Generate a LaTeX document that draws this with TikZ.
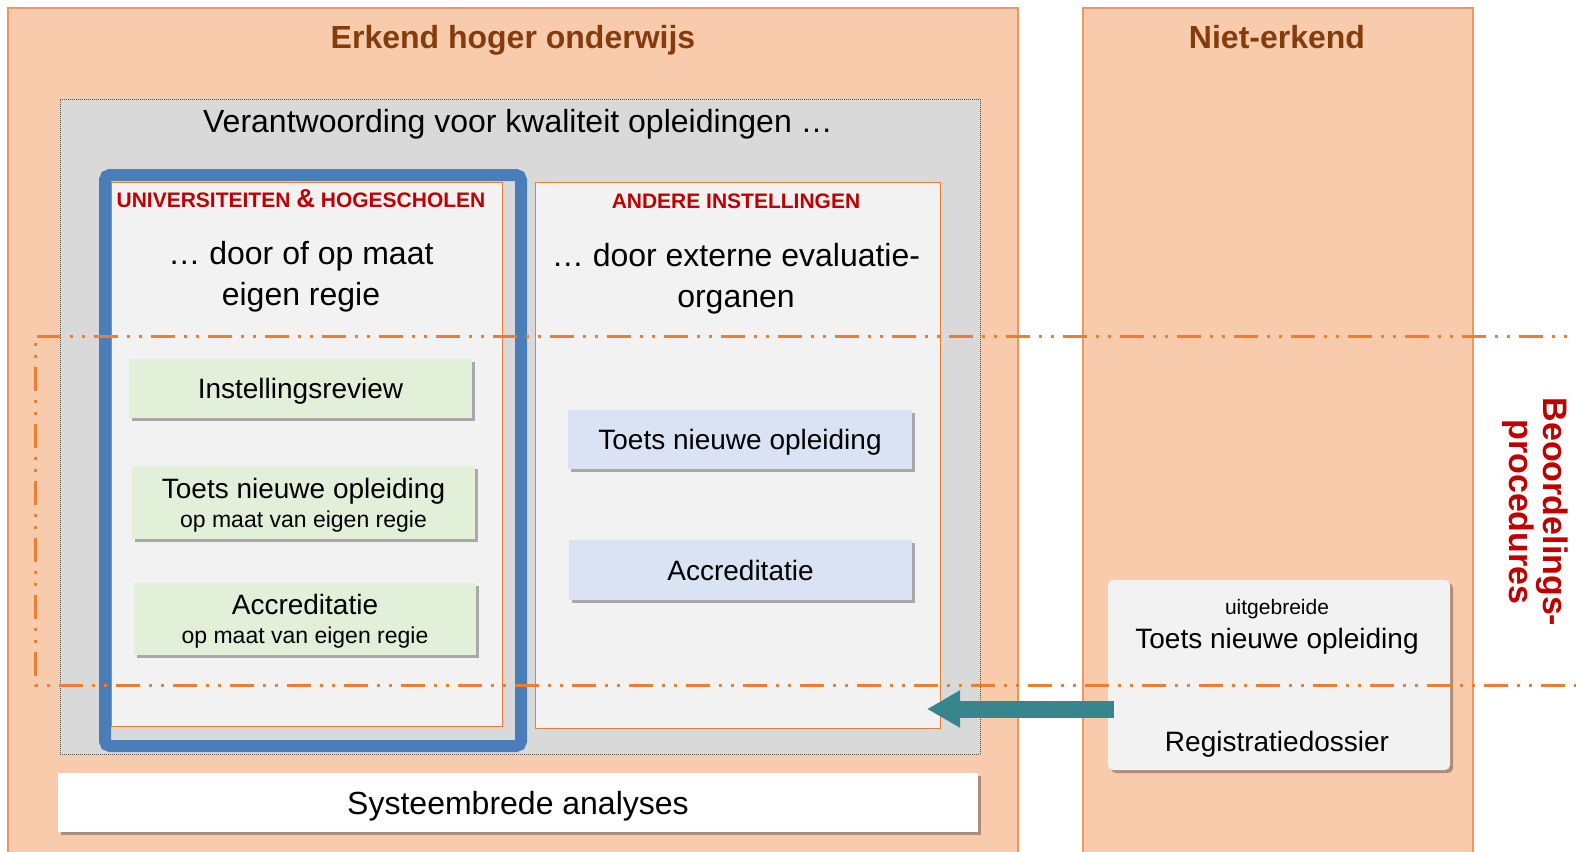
\documentclass[tikz,border=0pt]{standalone}
\usepackage{fontspec}
\setmainfont{Liberation Sans}
\usetikzlibrary{shadows,arrows.meta}
\definecolor{peach}{RGB}{248,203,173}
\definecolor{peachline}{RGB}{241,150,90}
\definecolor{orangeL}{RGB}{237,125,49}
\definecolor{grayfill}{RGB}{217,217,217}
\definecolor{grayline}{RGB}{80,80,80}
\definecolor{lightfill}{RGB}{242,242,242}
\definecolor{greenfill}{RGB}{226,240,217}
\definecolor{bluefill}{RGB}{218,227,243}
\definecolor{frameblue}{RGB}{74,126,187}
\definecolor{redtxt}{RGB}{192,0,0}
\definecolor{browntxt}{RGB}{132,60,12}
\definecolor{tealarrow}{RGB}{55,134,141}
\tikzset{
  region/.style={draw=peachline, line width=1.2, fill=peach, inner sep=0},
  boxshadow/.style={drop shadow={shadow xshift=3pt, shadow yshift=-3pt, opacity=0.3, fill=black}},
  inbox/.style={draw=orangeL, line width=1, fill=lightfill, inner sep=0},
  greenbox/.style={fill=greenfill, boxshadow, align=center, inner sep=0, text depth=0pt, font=\fontsize{28}{32}\selectfont},
  bluebox/.style={fill=bluefill, boxshadow, align=center, inner sep=0, text depth=0pt, font=\fontsize{28}{32}\selectfont},
  bigtxt/.style={inner sep=0, align=center, text depth=0pt, font=\fontsize{32}{41}\selectfont},
  captxt/.style={inner sep=0, text=redtxt, font=\bfseries\fontsize{21}{25}\selectfont},
  titletxt/.style={inner sep=0, text=browntxt, text depth=0pt, font=\bfseries\fontsize{32}{38}\selectfont},
  smalltxt/.style={inner sep=0, text depth=0pt, font=\fontsize{28}{32}\selectfont},
}
\begin{document}
\begin{tikzpicture}[x=1pt,y=-1pt]
\useasboundingbox (0,0) rectangle (1576,851);
\fill[white] (0,0) rectangle (1576,851);
% regions
\node[region, minimum width=1010, minimum height=862] (erkend) at (513,439) {};
\node[region, minimum width=390, minimum height=862] (niet) at (1278,439) {};
\node[titletxt] (terkend) at (513,37) {Erkend hoger onderwijs};
\node[titletxt] (tniet) at (1277,37) {Niet-erkend};
% gray box
\node[draw=grayline, line width=1, dash pattern=on 1pt off 1pt, fill=grayfill, minimum width=920, minimum height=655, inner sep=0] (gray) at (520,426.5) {};
\node[bigtxt] (verant) at (518,121) {Verantwoording voor kwaliteit opleidingen …};
% inner boxes
\node[inbox, minimum width=391, minimum height=544] (uh) at (306.5,454) {};
\node[inbox, minimum width=405, minimum height=546] (andere) at (737.5,455) {};
\node[captxt] (tuh) at (301,199) {UNIVERSITEITEN {\fontsize{26}{26}\selectfont\&} HOGESCHOLEN};
\node[bigtxt] (duh) at (301,273) {… door of op maat\\eigen regie};
\node[captxt] (tand) at (736,201) {ANDERE INSTELLINGEN};
\node[bigtxt] (dand) at (736,275) {… door externe evaluatie-\\organen};
% green boxes
\node[greenbox, minimum width=343, minimum height=59] (g1) at (300.5,388.5) {Instellingsreview};
\node[greenbox, minimum width=343, minimum height=73] (g2) at (303.5,502.5) {Toets nieuwe opleiding\\[-3pt]\fontsize{23}{27}\selectfont op maat van eigen regie};
\node[greenbox, minimum width=342, minimum height=72] (g3) at (305,619) {Accreditatie\\[-3pt]\fontsize{23}{27}\selectfont op maat van eigen regie};
% blue boxes
\node[bluebox, minimum width=344, minimum height=59] (b1) at (740,439.5) {Toets nieuwe opleiding};
\node[bluebox, minimum width=343, minimum height=60] (b2) at (740.5,570) {Accreditatie};
% blue frame
\node[draw=frameblue, line width=12, rounded corners=5, minimum width=416, minimum height=571, inner sep=0] (uhframe) at (313,460.5) {};
% systeembrede
\node[fill=white, boxshadow, minimum width=920, minimum height=59, inner sep=0, text depth=0pt, font=\fontsize{32}{38}\selectfont] (sys) at (518,802.5) {Systeembrede analyses};
% right box
\node[fill=lightfill, rounded corners=5, boxshadow, minimum width=342, minimum height=190, inner sep=0] (reg) at (1279,675) {};
\node[inner sep=0, text depth=0pt, font=\fontsize{21}{25}\selectfont] (uitg) at (1277,607) {uitgebreide};
\node[smalltxt] (toetsr) at (1277,638) {Toets nieuwe opleiding};
\node[smalltxt] (regd) at (1277,741) {Registratiedossier};
% arrow
\coordinate (atail) at (1114,709);
\coordinate (atip) at (927,709);
\draw[tealarrow, line width=17, -{Triangle[length=33pt, width=35pt]}] (atail) -- (atip);
% dash-dot frame
\coordinate (d1) at (1600,336);
\coordinate (d2) at (35,336);
\coordinate (d3) at (35,685);
\coordinate (d4) at (1600,685);
\draw[orangeL, line width=3, dash pattern=on 24pt off 9pt on 3pt off 9pt on 3pt off 9pt] (d1) -- (d2) -- (d3) -- (d4);
% rotated label
\node[rotate=-90, inner sep=0, align=center, text=redtxt, font=\bfseries\fontsize{34}{34}\selectfont] (beoord) at (1535,512) {Beoordelings-\\procedures};
\end{tikzpicture}
\end{document}
